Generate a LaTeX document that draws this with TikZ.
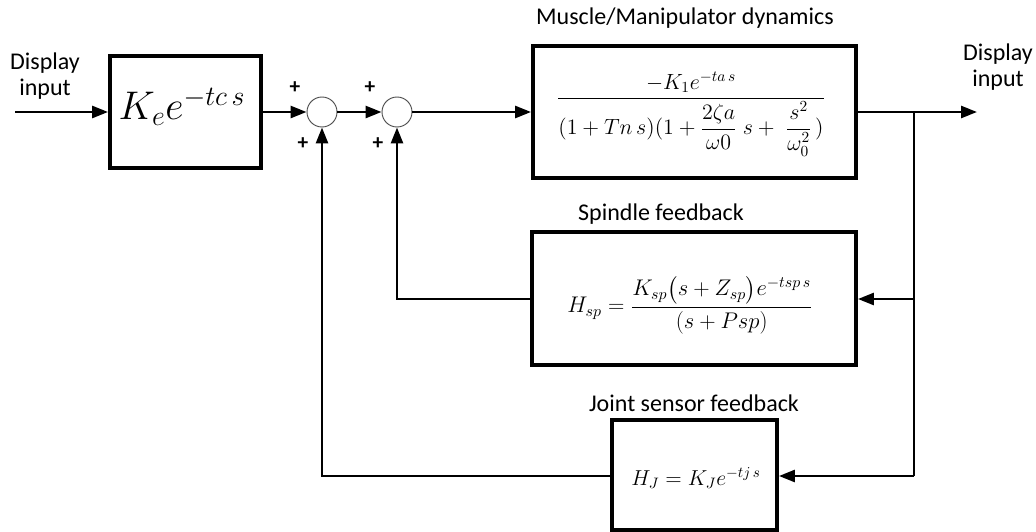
\RequirePackage{fix-cm}
\documentclass[tikz,border=0pt]{standalone}
\usepackage{amsmath}
\usepackage{fontspec}
\setmainfont{Carlito}
\usetikzlibrary{arrows.meta}
\begin{document}
\begin{tikzpicture}[x=0.75pt,y=-0.75pt,
  blk/.style={draw,line width=2.9pt,rectangle,inner sep=0pt},
  sumnode/.style={draw=black!70,circle,line width=0.7pt,minimum size=22.5pt,inner sep=0pt},
  conn/.style={line width=2pt},
  arr/.style={conn,-{Triangle[length=12pt,width=9pt]}},
  lbl/.style={font=\fontsize{18}{20}\selectfont,inner sep=0pt},
  iolbl/.style={font=\fontsize{18}{20}\selectfont,inner sep=0pt,align=center},
  pm/.style={font=\bfseries\fontsize{16}{16}\selectfont,inner sep=0pt},
  eq/.style={font=\fontsize{16.5}{19}\selectfont,inner sep=0pt}]
\useasboundingbox (0,0) rectangle (1036,532);
% blocks
\node[blk,minimum width=113.25pt,minimum height=84pt] (ke) at (185.5,112) {};
\node[inner sep=0pt,font=\fontsize{30}{36}\selectfont] (kef) at (182,107) {$K_e e^{-tc\,s}$};
\node[blk,minimum width=242.25pt,minimum height=99pt] (mus) at (694.5,112) {};
\node[eq] (musf) at (691,114) {$\displaystyle\frac{-K_1e^{-ta\,s}}{(1+Tn\,s)(1+\dfrac{2\zeta a}{\omega 0}\;s+\;\dfrac{s^2}{\omega_0^2}\,)}$};
\node[blk,minimum width=243pt,minimum height=99.75pt] (spi) at (694,298.5) {};
\node[eq,font=\fontsize{17}{20}\selectfont] (spif) at (690,305) {$H_{sp}=\dfrac{K_{sp}\bigl(s+Z_{sp}\bigr)e^{-tsp\,s}}{(s+Psp)}$};
\node[blk,minimum width=123.75pt,minimum height=82.5pt] (joi) at (694.5,475) {};
\node[eq,font=\fontsize{16.2}{19}\selectfont] (joif) at (696,478) {$H_J=K_Je^{-tj\,s}$};
% summing junctions
\node[sumnode] (s1) at (322,112) {};
\node[sumnode] (s2) at (397,112) {};
% labels
\node[lbl] (lm) at (685,18) {Muscle/Manipulator dynamics};
\node[lbl] (ls) at (661,214) {Spindle feedback};
\node[lbl] (lj) at (694,403) {Joint sensor feedback};
\node[iolbl] (inl) at (45,76) {Display\\input};
\node[iolbl] (outl) at (998,67) {Display\\input};
\node[pm] (p1a) at (295,88) {+};
\node[pm] (p1b) at (303,144) {+};
\node[pm] (p2a) at (370,88) {+};
\node[pm] (p2b) at (378,144) {+};
% coordinates
\coordinate (in) at (15,112);
\coordinate (out) at (977,112);
\coordinate (br) at (914,112);
\coordinate (br2) at (914,299);
\coordinate (br3) at (914,476);
% connectors
\draw[arr] (in) -- (ke.west);
\draw[arr] (ke.east) -- (s1.west);
\draw[arr] (s1.east) -- (s2.west);
\draw[arr] (s2.east) -- (mus.west);
\draw[arr] (mus.east) -- (out);
\draw[conn] (br) -- (br3);
\draw[arr] (br2) -- (br2 -| spi.east);
\draw[arr] (br3) -- (br3 -| joi.east);
\draw[arr] (spi.west |- br2) -| (s2.south);
\draw[arr] (joi.west |- br3) -| (s1.south);
\end{tikzpicture}
\end{document}
